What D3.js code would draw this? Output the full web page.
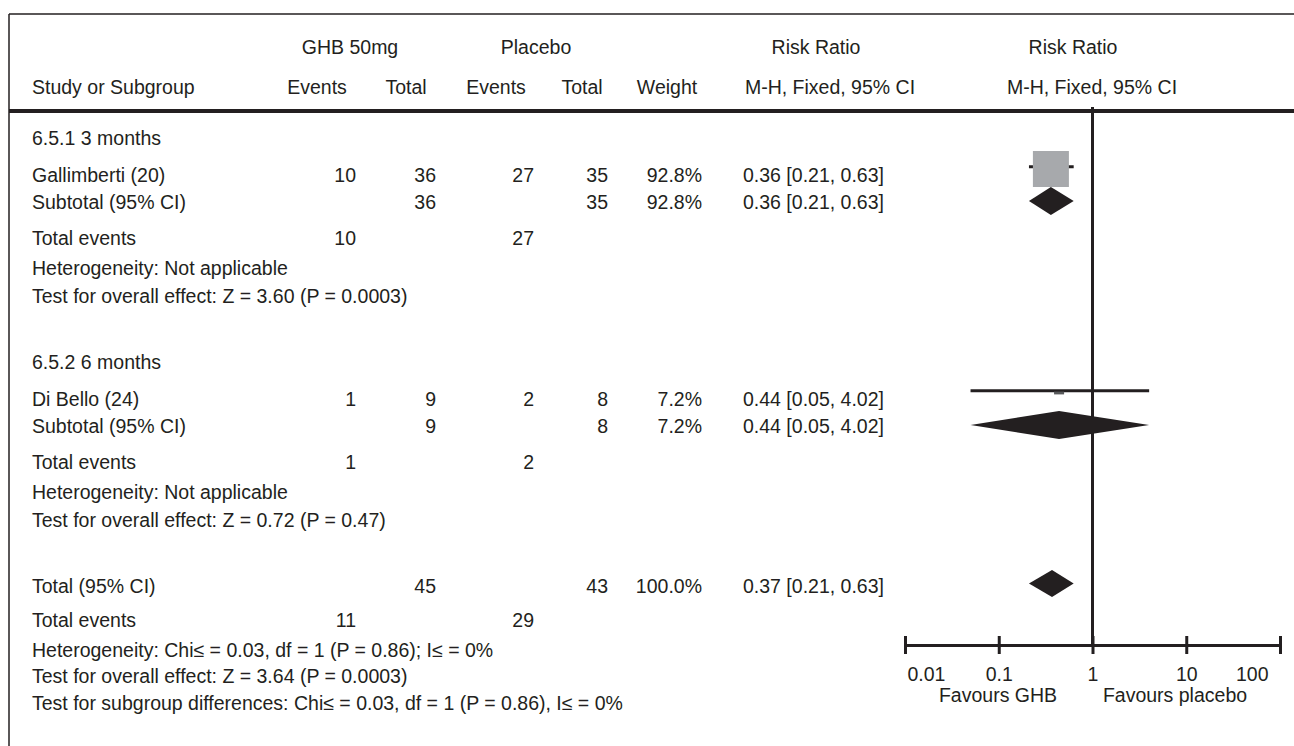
<!DOCTYPE html>
<html>
<head>
<meta charset="utf-8">
<script src="https://cdn.jsdelivr.net/npm/d3@7"></script>
<style>
  html, body { margin: 0; padding: 0; background: #fff; }
  svg { display: block; }
  text { font-family: "Liberation Sans", Arial, Helvetica, sans-serif; font-size: 19.5px; fill: #231f20; }
</style>
</head>
<body>
<svg id="chart" width="1294" height="746"></svg>
<script>
// ---------------- DATA ----------------
const subgroups      = ["6.5.1 3 months", "6.5.2 6 months"];
const studies        = ["Gallimberti (20)", "Di Bello (24)"];
const ghbEvents      = [10, 1];
const ghbTotal       = [36, 9];
const placeboEvents  = [27, 2];
const placeboTotal   = [35, 8];
const weights        = [92.8, 7.2];
const riskRatio      = [0.36, 0.44];
const ciLower        = [0.21, 0.05];
const ciUpper        = [0.63, 4.02];
const heterogeneity  = ["Heterogeneity: Not applicable", "Heterogeneity: Not applicable"];
const overallEffect  = ["Test for overall effect: Z = 3.60 (P = 0.0003)", "Test for overall effect: Z = 0.72 (P = 0.47)"];

const totalGhb       = 45;
const totalPlacebo   = 43;
const totalWeight    = 100.0;
const totalEventsGhb = 11;
const totalEventsPlc = 29;
const totalRR        = 0.37;
const totalLower     = 0.21;
const totalUpper     = 0.63;
const totalNotes     = [
  "Heterogeneity: Chi\u2264 = 0.03, df = 1 (P = 0.86); I\u2264 = 0%",
  "Test for overall effect: Z = 3.64 (P = 0.0003)",
  "Test for subgroup differences: Chi\u2264 = 0.03, df = 1 (P = 0.86), I\u2264 = 0%"
];

const tickValues     = [0.01, 0.1, 1, 10, 100];
const tickLabels     = ["0.01", "0.1", "1", "10", "100"];
const favourLabels   = ["Favours GHB", "Favours placebo"];

// ---------------- LAYOUT ----------------
const svg = d3.select("#chart");
const ink = "#231f20";
const fmt2 = d3.format(".2f");
const ciText = (r, l, u) => `${fmt2(r)} [${fmt2(l)}, ${fmt2(u)}]`;
const pct = w => d3.format(".1f")(w) + "%";

const x = d3.scaleLog().domain([0.01, 100]).range([905, 1280]);
const size = d3.scaleSqrt().domain([0, 92.8]).range([0, 36]);

// column anchors
const col = { label: 32, ghbE: 356, ghbT: 436, plcE: 534, plcT: 608, weight: 702, rr: 743 };

// row baselines (second subgroup block repeats the first one 224px lower)
const block = { head: 145, study: 182, subtotal: 209, events: 245, het: 275, test: 303, line: 166.7, diamond: 201 };
const blockShift = [0, 224];
const subY = blockShift.map(s => Object.fromEntries(Object.entries(block).map(([k, v]) => [k, v + s])));
const totY = { total: 593, events: 627, notes: [657, 683, 710], diamond: 583.5 };

// frame
svg.append("rect").attr("x", 0).attr("y", 0).attr("width", 1294).attr("height", 746).attr("fill", "#fff");
svg.append("line").attr("x1", 9).attr("x2", 1294).attr("y1", 14).attr("y2", 14).attr("stroke", ink).attr("stroke-width", 1.5);
svg.append("line").attr("x1", 9).attr("x2", 9).attr("y1", 14).attr("y2", 746).attr("stroke", ink).attr("stroke-width", 1.5);
svg.append("line").attr("x1", 9).attr("x2", 1294).attr("y1", 111).attr("y2", 111).attr("stroke", ink).attr("stroke-width", 4);

function txt(s, xx, yy, anchor) {
  svg.append("text").attr("x", xx).attr("y", yy).attr("text-anchor", anchor || "start").text(s);
}

// headers
txt("GHB 50mg", 350, 54, "middle");
txt("Placebo", 536, 54, "middle");
txt("Risk Ratio", 816, 54, "middle");
txt("Risk Ratio", 1073, 54, "middle");
txt("Study or Subgroup", col.label, 94);
txt("Events", 317, 94, "middle");
txt("Total", 406, 94, "middle");
txt("Events", 496, 94, "middle");
txt("Total", 582, 94, "middle");
txt("Weight", 667, 94, "middle");
txt("M-H, Fixed, 95% CI", 830, 94, "middle");
txt("M-H, Fixed, 95% CI", 1092, 94, "middle");

// line of no effect
svg.append("line").attr("x1", x(1)).attr("x2", x(1)).attr("y1", 107).attr("y2", 645)
  .attr("stroke", ink).attr("stroke-width", 3);

function diamond(r, l, u, cy, hh) {
  svg.append("path")
    .attr("d", `M${x(l)},${cy} L${x(r)},${cy - hh} L${x(u)},${cy} L${x(r)},${cy + hh} Z`)
    .attr("fill", ink);
}

subgroups.forEach((g, i) => {
  const Y = subY[i];
  txt(g, col.label, Y.head);
  // study row
  txt(studies[i], col.label, Y.study);
  txt(ghbEvents[i], col.ghbE, Y.study, "end");
  txt(ghbTotal[i], col.ghbT, Y.study, "end");
  txt(placeboEvents[i], col.plcE, Y.study, "end");
  txt(placeboTotal[i], col.plcT, Y.study, "end");
  txt(pct(weights[i]), col.weight, Y.study, "end");
  txt(ciText(riskRatio[i], ciLower[i], ciUpper[i]), col.rr, Y.study);
  // subtotal row
  txt("Subtotal (95% CI)", col.label, Y.subtotal);
  txt(ghbTotal[i], col.ghbT, Y.subtotal, "end");
  txt(placeboTotal[i], col.plcT, Y.subtotal, "end");
  txt(pct(weights[i]), col.weight, Y.subtotal, "end");
  txt(ciText(riskRatio[i], ciLower[i], ciUpper[i]), col.rr, Y.subtotal);
  // total events
  txt("Total events", col.label, Y.events);
  txt(ghbEvents[i], col.ghbE, Y.events, "end");
  txt(placeboEvents[i], col.plcE, Y.events, "end");
  txt(heterogeneity[i], col.label, Y.het);
  txt(overallEffect[i], col.label, Y.test);

  // CI line
  svg.append("line").attr("x1", x(ciLower[i])).attr("x2", x(ciUpper[i]))
    .attr("y1", Y.line).attr("y2", Y.line).attr("stroke", ink).attr("stroke-width", 3);
  // weight square
  const w = size(weights[i]);
  const h = w * w / 36;
  svg.append("rect").attr("x", x(riskRatio[i]) - w / 2).attr("y", Y.line + 2.3 - h / 2)
    .attr("width", w).attr("height", h)
    .attr("fill", weights[i] > 50 ? "#a7a9ac" : "#58595b");
  // subtotal diamond
  diamond(riskRatio[i], ciLower[i], ciUpper[i], Y.diamond, 14);
});

// totals
txt("Total (95% CI)", col.label, totY.total);
txt(totalGhb, col.ghbT, totY.total, "end");
txt(totalPlacebo, col.plcT, totY.total, "end");
txt(pct(totalWeight), col.weight, totY.total, "end");
txt(ciText(totalRR, totalLower, totalUpper), col.rr, totY.total);
txt("Total events", col.label, totY.events);
txt(totalEventsGhb, col.ghbE, totY.events, "end");
txt(totalEventsPlc, col.plcE, totY.events, "end");
totalNotes.forEach((n, i) => txt(n, col.label, totY.notes[i]));
diamond(totalRR, totalLower, totalUpper, totY.diamond, 13.5);

// axis
const axis = d3.axisBottom(x).tickValues(tickValues)
  .tickFormat((d, i) => tickLabels[i]).tickSizeOuter(0).tickSizeInner(9).tickPadding(13);
const ag = svg.append("g").attr("transform", "translate(0,645)").call(axis);
ag.select(".domain").attr("stroke", ink).attr("stroke-width", 3);
ag.selectAll(".tick line").attr("y1", -9).attr("y2", 9).attr("stroke", ink).attr("stroke-width", 3);
ag.selectAll(".tick text")
  .attr("font-family", "Liberation Sans, Arial, sans-serif").attr("font-size", 18.5).attr("fill", ink)
  .attr("text-anchor", (d, i) => i === 0 ? "start" : (i === tickValues.length - 1 ? "end" : "middle"))
  .attr("dx", (d, i) => i === 0 ? 2 : (i === tickValues.length - 1 ? -12 : 0));

txt(favourLabels[0], 998, 702, "middle");
txt(favourLabels[1], 1175, 702, "middle");
</script>
</body>
</html>
